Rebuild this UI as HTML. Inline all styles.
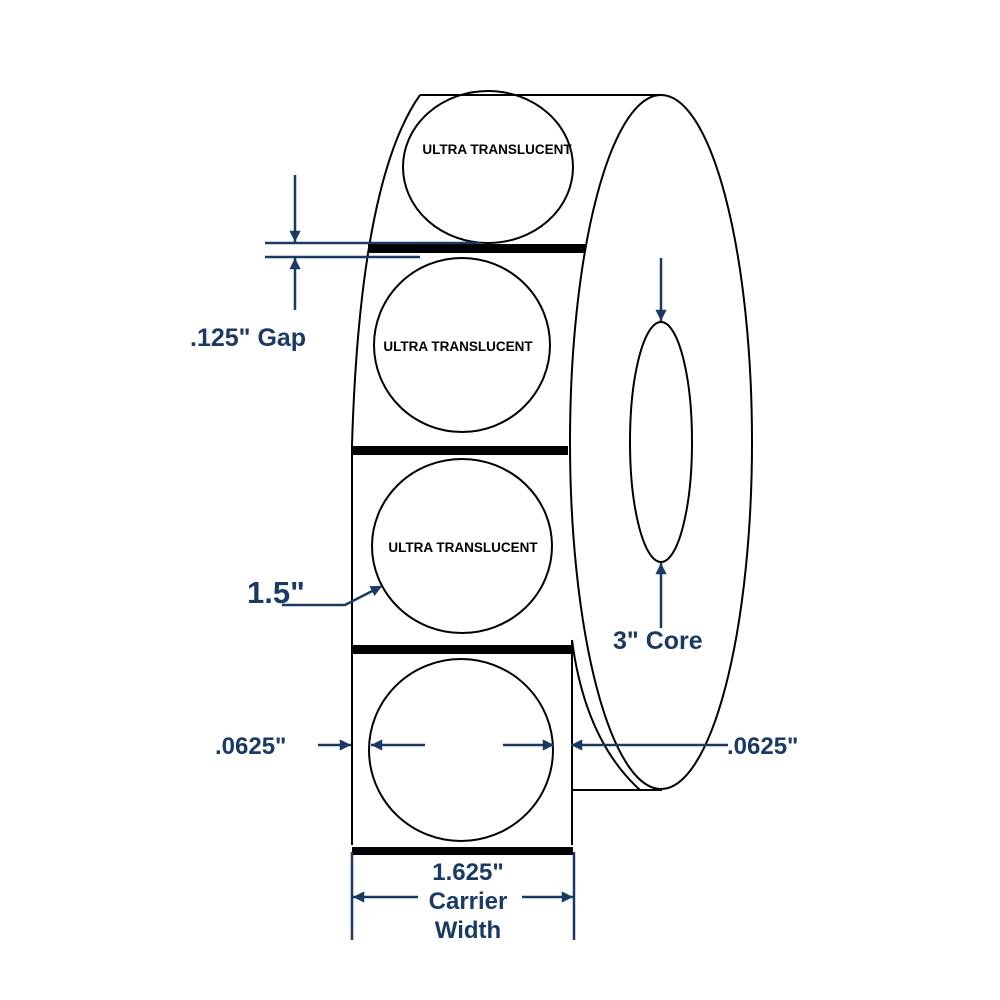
<!DOCTYPE html>
<html><head><meta charset="utf-8"><style>
html,body{margin:0;padding:0;background:#fff;}
svg{display:block;}
.d{font-family:"Liberation Sans",Arial,sans-serif;font-weight:bold;fill:#1b3a63;}
.l{font-family:"Liberation Sans",Arial,sans-serif;font-weight:bold;font-size:13.5px;fill:#000;}
</style></head><body>
<svg width="1000" height="1000" viewBox="0 0 1000 1000" xmlns="http://www.w3.org/2000/svg">
<defs>
<marker id="a" viewBox="0 0 10 10" refX="10" refY="5" markerWidth="8" markerHeight="4.5" markerUnits="strokeWidth" orient="auto"><path d="M0,0L10,5L0,10z" fill="#1b3a63"/></marker>
</defs>
<g fill="none" stroke="#000" stroke-width="2">
<line x1="420" y1="95" x2="662" y2="95"/>
<path d="M420,95 Q360,180 352,445 L352,845"/>
<ellipse cx="661" cy="442" rx="91" ry="347"/>
<path d="M572,640 Q585,740 640,790"/>
<line x1="572" y1="640" x2="572" y2="845"/>
<line x1="572" y1="790" x2="662" y2="790"/>
<ellipse cx="661" cy="442" rx="31" ry="120"/>
<ellipse cx="488" cy="167" rx="85" ry="76"/>
<ellipse cx="462" cy="345" rx="88" ry="87"/>
<ellipse cx="462" cy="546" rx="90" ry="87"/>
<ellipse cx="461" cy="750" rx="92" ry="91"/>
</g>
<g fill="#000">
<rect x="368" y="244" width="217" height="9"/>
<rect x="352" y="446" width="216" height="9"/>
<rect x="352" y="645" width="219" height="9"/>
<rect x="352" y="847" width="221" height="8"/>
</g>
<text class="l" x="497" y="154" text-anchor="middle">ULTRA TRANSLUCENT</text>
<text class="l" x="458" y="351" text-anchor="middle">ULTRA TRANSLUCENT</text>
<text class="l" x="463" y="552" text-anchor="middle">ULTRA TRANSLUCENT</text>
<g stroke="#1b3a63" stroke-width="2.5" fill="none">
<line x1="265" y1="243" x2="480" y2="243"/>
<line x1="265" y1="257" x2="420" y2="257"/>
<line x1="295" y1="175" x2="295" y2="242" marker-end="url(#a)"/>
<line x1="295" y1="310" x2="295" y2="258" marker-end="url(#a)"/>
<line x1="661" y1="258" x2="661" y2="321" marker-end="url(#a)"/>
<line x1="661" y1="628" x2="661" y2="563" marker-end="url(#a)"/>
<path d="M282,605 L345,605 L382,586" marker-end="url(#a)"/>
<line x1="318" y1="745" x2="351" y2="745" marker-end="url(#a)"/>
<line x1="425" y1="745" x2="371" y2="745" marker-end="url(#a)"/>
<line x1="503" y1="745" x2="554" y2="745" marker-end="url(#a)"/>
<line x1="728" y1="745" x2="571" y2="745" marker-end="url(#a)"/>
<line x1="352" y1="852" x2="352" y2="940"/>
<line x1="574" y1="852" x2="574" y2="940"/>
<line x1="418" y1="897" x2="353" y2="897" marker-end="url(#a)"/>
<line x1="522" y1="897" x2="573" y2="897" marker-end="url(#a)"/>
</g>
<text class="d" x="190" y="346" font-size="25">.125" Gap</text>
<text class="d" x="247" y="603" font-size="31">1.5"</text>
<text class="d" x="613" y="649" font-size="25">3" Core</text>
<text class="d" x="215" y="754" font-size="24">.0625"</text>
<text class="d" x="727" y="754" font-size="24">.0625"</text>
<text class="d" x="468" y="880" font-size="24" text-anchor="middle">1.625"</text>
<text class="d" x="468" y="909" font-size="24" text-anchor="middle">Carrier</text>
<text class="d" x="468" y="938" font-size="24" text-anchor="middle">Width</text>
</svg>
</body></html>
